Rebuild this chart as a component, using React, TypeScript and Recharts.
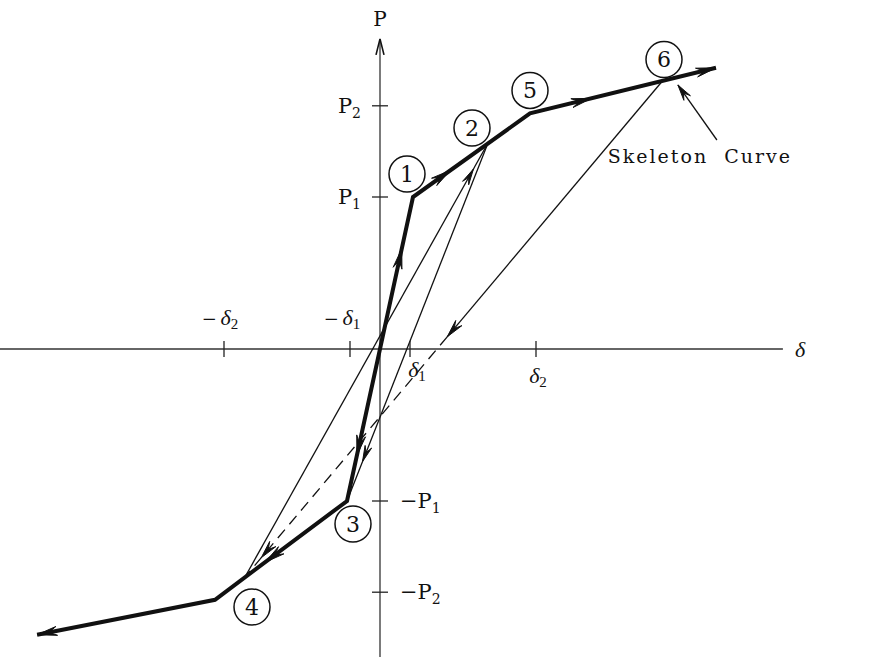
import React from 'react';
import { LineChart, Line, XAxis, YAxis, ReferenceLine, ReferenceDot } from 'recharts';

// units: deflection in multiples of δ1, load in multiples of P1
const skeletonDelta = [-11.43, -5.5, -1.1, 1.1, 5.0, 11.2];
const skeletonLoad = [-1.88, -1.65, -1.0, 1.0, 1.55, 1.85];

const reloadDelta = [-4.5, 3.6]; // 4 -> 2
const reloadLoad = [-1.5, 1.355];
const unloadDelta = [3.6, -1.1]; // 2 -> 3
const unloadLoad = [1.355, -1.0];
const unload6Delta = [9.4, 2.24]; // 6 -> zero load
const unload6Load = [1.76, 0.08];
const aimDelta = [2.24, -4.5]; // heading for 4
const aimLoad = [0.08, -1.5];

const stateNames = ['1', '2', '3', '4', '5', '6'];
const stateDelta = [1.1, 3.6, -1.1, -4.5, 5.0, 9.4];
const stateLoad = [1.0, 1.355, -1.0, -1.5, 1.55, 1.76];

const deltaTicks = [-5.2, -1, 1, 5.2];
const deltaTickLabels = [['−', '2'], ['−', '1'], ['', '1'], ['', '2']];
const loadTicks = [1.6, 1, -1, -1.6];
const loadTickLabels = [['P', '2'], ['P', '1'], ['−P', '1'], ['−P', '2']];

const pointerDelta = [11.23, 9.93];
const pointerLoad = [1.375, 1.737];

const W = 876;
const H = 657;
const ORIGIN_X = 380;
const ORIGIN_Y = 349;
const PX_DELTA = 30;
const PX_LOAD = 152;
const xDomain = [-ORIGIN_X / PX_DELTA, (W - ORIGIN_X) / PX_DELTA];
const yDomain = [-(H - ORIGIN_Y) / PX_LOAD, ORIGIN_Y / PX_LOAD];
const axisRight = 13.43;
const axisTop = 2.04;

const FONT = "'DejaVu Serif', 'Liberation Serif', serif";
const GREEK = "'Liberation Serif', 'DejaVu Serif', serif";

const toPoints = (d: number[], p: number[]) => d.map((x, i) => ({ x, y: p[i] }));

type Arrow = { seg: number; t: number; back?: boolean };

// draws arrowheads along a polyline, using the pixel points of the series
const arrowHeads = (arrows: Arrow[], len: number, half: number) => (props: any) => {
  const { index, points } = props;
  if (index !== 0 || !points) return <g key={`d${index}`} />;
  return (
    <g key="arrows">
      {arrows.map((a, i) => {
        const p = points[a.seg];
        const q = points[a.seg + 1];
        const tx = p.x + (q.x - p.x) * a.t;
        const ty = p.y + (q.y - p.y) * a.t;
        let ux = q.x - p.x;
        let uy = q.y - p.y;
        const n = Math.hypot(ux, uy);
        ux /= n;
        uy /= n;
        if (a.back) {
          ux = -ux;
          uy = -uy;
        }
        const bx = tx - ux * len;
        const by = ty - uy * len;
        const mx = tx - ux * len * 0.6;
        const my = ty - uy * len * 0.6;
        const d = `M${tx},${ty} L${bx + uy * half},${by - ux * half} L${mx},${my} L${bx - uy * half},${by + ux * half} Z`;
        return <path key={i} d={d} fill="#111" stroke="#111" strokeWidth={1} strokeLinejoin="miter" />;
      })}
    </g>
  );
};

const LoadLabel = ({ x, y, main, sub, anchor }: any) => (
  <text x={x} y={y} textAnchor={anchor} fontFamily={FONT} fontSize={21} fill="#111">
    <tspan>{main}</tspan>
    <tspan fontSize={14} dy={5}>{sub}</tspan>
  </text>
);

const DeltaLabel = ({ x, y, minus, sub }: any) => (
  <text x={x} y={y} textAnchor="middle" fontFamily={GREEK} fontSize={22} fill="#111">
    {minus ? <tspan fontFamily={FONT} fontSize={18}>{minus + '\u2009'}</tspan> : null}
    <tspan fontStyle="italic">δ</tspan>
    <tspan fontSize={15} dy={4}>{sub}</tspan>
  </text>
);

const DeltaTick = (label: string[], i: number) => (props: any) => {
  const { cx, cy } = props;
  const below = i >= 2;
  return (
    <g>
      <line x1={cx} y1={cy - 8} x2={cx} y2={cy + 8} stroke="#222" strokeWidth={1.3} />
      {below ? (
        <DeltaLabel x={cx + (i === 2 ? 7 : 2)} y={cy + (i === 2 ? 28 : 34)} minus={label[0]} sub={label[1]} />
      ) : (
        <DeltaLabel x={cx - (i === 1 ? 8 : 4)} y={cy - 24} minus={label[0]} sub={label[1]} />
      )}
    </g>
  );
};

const LoadTick = (label: string[], i: number) => (props: any) => {
  const { cx, cy } = props;
  const right = i >= 2;
  return (
    <g>
      <line x1={cx - 8} y1={cy} x2={cx + 8} y2={cy} stroke="#222" strokeWidth={1.3} />
      {right ? (
        <LoadLabel x={cx + 20} y={cy + 7} main={label[0]} sub={label[1]} anchor="start" />
      ) : (
        <LoadLabel x={cx - 19} y={cy + 7} main={label[0]} sub={label[1]} anchor="end" />
      )}
    </g>
  );
};

const stateOffsets = [
  [-6, -23],
  [-16, -15],
  [6, 23],
  [7, 30],
  [0, -23],
  [2, -22],
];

const StateMark = (name: string, i: number) => (props: any) => {
  const { cx, cy } = props;
  const x = cx + stateOffsets[i][0];
  const y = cy + stateOffsets[i][1];
  return (
    <g>
      <circle cx={x} cy={y} r={18} fill="#fff" stroke="#111" strokeWidth={1.5} />
      <text x={x} y={y + 8} textAnchor="middle" fontFamily={FONT} fontSize={22} fill="#111">
        {name}
      </text>
    </g>
  );
};

const AxisHead = (props: any) => {
  const { cx, cy } = props;
  return (
    <g>
      <path d={`M${cx - 4},${cy + 16} L${cx},${cy} L${cx + 4},${cy + 16}`} fill="none" stroke="#111" strokeWidth={1.6} />
      <text x={cx} y={cy - 13} textAnchor="middle" fontFamily={FONT} fontSize={20} fill="#111">P</text>
    </g>
  );
};

const DeltaName = (props: any) => {
  const { cx, cy } = props;
  return (
    <text x={cx + 12} y={cy + 8} fontFamily={GREEK} fontSize={22} fontStyle="italic" fill="#111">δ</text>
  );
};

const PointerText = (props: any) => {
  const { cx, cy } = props;
  return (
    <text x={cx - 17} y={cy + 23} textAnchor="middle" fontFamily={FONT} fontSize={19} letterSpacing={2} fill="#111">
      Skeleton{'\u00a0\u00a0'}Curve
    </text>
  );
};

const skeletonArrows: Arrow[] = [
  { seg: 0, t: 0, back: true },
  { seg: 1, t: 0.38, back: true },
  { seg: 2, t: 0.15, back: true },
  { seg: 2, t: 0.83 },
  { seg: 3, t: 0.32 },
  { seg: 4, t: 0.33 },
  { seg: 4, t: 1 },
];

export default function App() {
  return (
    <div style={{ width: W, height: H }}>
      <style>{'body{margin:0}'}</style>
      <LineChart width={W} height={H} margin={{ top: 0, right: 0, bottom: 0, left: 0 }}>
        <XAxis type="number" dataKey="x" domain={xDomain} allowDataOverflow hide />
        <YAxis type="number" dataKey="y" domain={yDomain} allowDataOverflow hide />

        <ReferenceLine
          segment={[{ x: xDomain[0], y: 0 }, { x: axisRight, y: 0 }]}
          stroke="#666"
          strokeWidth={2}
          ifOverflow="visible"
        />
        <ReferenceLine
          segment={[{ x: 0, y: yDomain[0] }, { x: 0, y: axisTop }]}
          stroke="#222"
          strokeWidth={1.2}
          ifOverflow="visible"
        />
        <ReferenceDot x={0} y={axisTop} r={0} ifOverflow="visible" shape={AxisHead} />
        <ReferenceDot x={axisRight} y={0} r={0} ifOverflow="visible" shape={DeltaName} />

        {deltaTicks.map((d, i) => (
          <ReferenceDot key={`dt${i}`} x={d} y={0} r={0} ifOverflow="visible" shape={DeltaTick(deltaTickLabels[i], i)} />
        ))}
        {loadTicks.map((p, i) => (
          <ReferenceDot key={`lt${i}`} x={0} y={p} r={0} ifOverflow="visible" shape={LoadTick(loadTickLabels[i], i)} />
        ))}

        <Line
          data={toPoints(reloadDelta, reloadLoad)}
          dataKey="y"
          type="linear"
          stroke="#111"
          strokeWidth={1.3}
          dot={arrowHeads([{ seg: 0, t: 0.94 }], 16, 3.5)}
          activeDot={false}
          isAnimationActive={false}
        />
        <Line
          data={toPoints(unloadDelta, unloadLoad)}
          dataKey="y"
          type="linear"
          stroke="#111"
          strokeWidth={1.3}
          dot={arrowHeads([{ seg: 0, t: 0.89 }], 16, 3.5)}
          activeDot={false}
          isAnimationActive={false}
        />
        <Line
          data={toPoints(unload6Delta, unload6Load)}
          dataKey="y"
          type="linear"
          stroke="#111"
          strokeWidth={1.3}
          dot={arrowHeads([{ seg: 0, t: 1 }], 18, 4)}
          activeDot={false}
          isAnimationActive={false}
        />
        <Line
          data={toPoints(aimDelta, aimLoad)}
          dataKey="y"
          type="linear"
          stroke="#111"
          strokeWidth={1.3}
          strokeDasharray="11 7"
          dot={arrowHeads([{ seg: 0, t: 0.92 }], 18, 4)}
          activeDot={false}
          isAnimationActive={false}
        />
        <Line
          data={toPoints(skeletonDelta, skeletonLoad)}
          dataKey="y"
          type="linear"
          stroke="#111"
          strokeWidth={4}
          strokeLinejoin="miter"
          dot={arrowHeads(skeletonArrows, 20, 4.5)}
          activeDot={false}
          isAnimationActive={false}
        />
        <Line
          data={toPoints(pointerDelta, pointerLoad)}
          dataKey="y"
          type="linear"
          stroke="#111"
          strokeWidth={1.3}
          dot={arrowHeads([{ seg: 0, t: 1 }], 16, 4)}
          activeDot={false}
          isAnimationActive={false}
        />

        {stateNames.map((s, i) => (
          <ReferenceDot
            key={`s${s}`}
            x={stateDelta[i]}
            y={stateLoad[i]}
            r={0}
            ifOverflow="visible"
            shape={StateMark(s, i)}
          />
        ))}
        <ReferenceDot x={pointerDelta[0]} y={pointerLoad[0]} r={0} ifOverflow="visible" shape={PointerText} />
      </LineChart>
    </div>
  );
}
